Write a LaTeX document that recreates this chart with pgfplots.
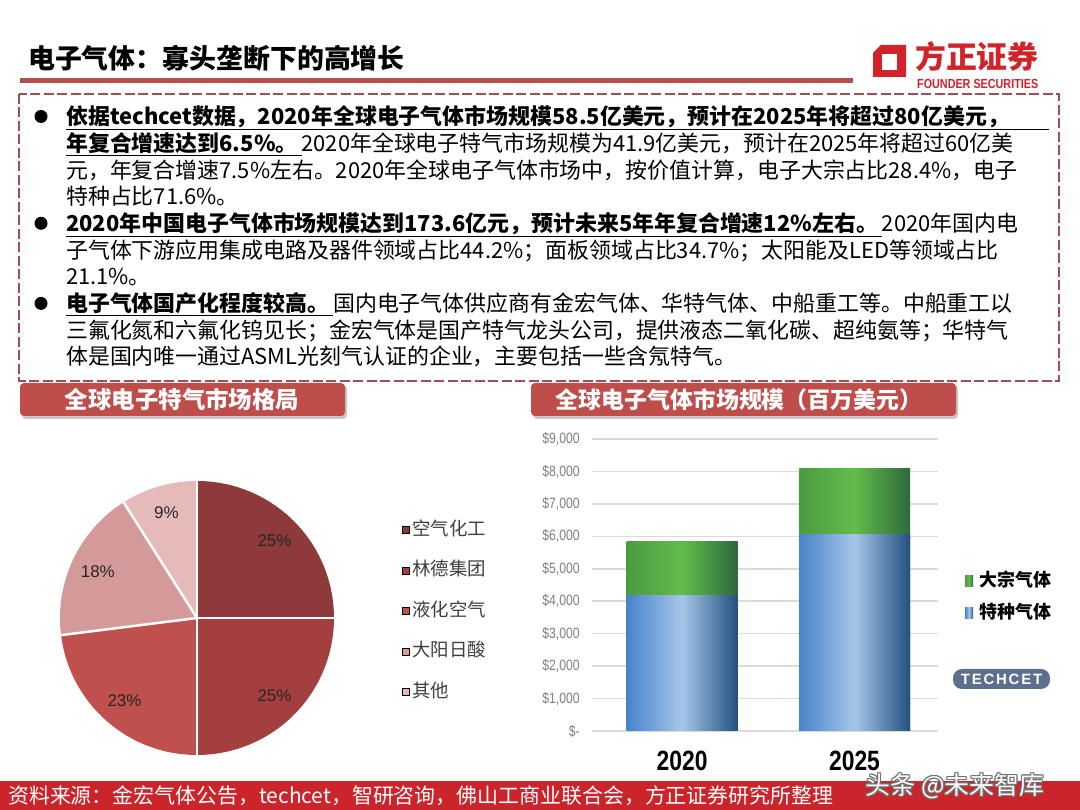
\documentclass[border=0pt]{standalone}
\usepackage{pgfplots}
\pgfplotsset{compat=1.18}
\usepackage{pgfplotstable}
\usepackage{fontspec}
\setmainfont{Noto Sans CJK SC}
\newfontfamily\arial{Liberation Sans}
\newfontfamily\arialn{Liberation Sans}[FakeStretch=0.82]
\XeTeXlinebreaklocale "zh"
\XeTeXlinebreakskip=0pt plus 3pt

\definecolor{pie0}{HTML}{8E3A3A}
\definecolor{pie1}{HTML}{A3403F}
\definecolor{pie2}{HTML}{C0504D}
\definecolor{pie3}{HTML}{D49A99}
\definecolor{pie4}{HTML}{E5BAB9}
\definecolor{hdr}{HTML}{BF4D4A}
\definecolor{boxred}{HTML}{A24E56}
\definecolor{titlered}{HTML}{B3504E}
\definecolor{logored}{HTML}{D2232A}
\definecolor{footred}{HTML}{CB252B}
\definecolor{gridgray}{HTML}{DADADA}
\definecolor{tickgray}{HTML}{7F7F7F}
\definecolor{legtext}{HTML}{404040}
\definecolor{blueL}{HTML}{4584CA}
\definecolor{blueM}{HTML}{A6C6E9}
\definecolor{blueR}{HTML}{22507F}
\definecolor{greenL}{HTML}{4C9A42}
\definecolor{greenM}{HTML}{62BC4A}
\definecolor{greenR}{HTML}{2C6A3D}
\definecolor{slate}{HTML}{5C6F8C}

% global specialty gas market share (%)
\pgfplotstableread{
share
25
25
23
18
9
}\piedata

% global electronic gas market, million USD
\pgfplotstableread{
x spec bulk
0 4190 1660
1 6060 2020
}\gasdata

\newcommand\bu[1]{\underline{\bfseries #1}}

\begin{document}
\begin{tikzpicture}[x=1bp,y=1bp,
  txt/.style={anchor=base west, inner sep=0pt, font=\fontsize{22}{26}\selectfont}]
\useasboundingbox (0,0) rectangle (1080,810);
\fill[white] (0,0) rectangle (1080,810);

% title and logo
\node[anchor=west, inner sep=0pt, font=\fontsize{27}{30}\selectfont\bfseries] at (28,{810-58}) {电子气体：寡头垄断下的高增长};
\fill[titlered] (20,{810-83}) rectangle (853,{810-78});
\fill[logored] (873,{810-53}) -- (881,{810-45}) -- (906,{810-45}) -- (906,{810-77}) -- (873,{810-77}) -- cycle;
\fill[white] (882,{810-54}) rectangle (897,{810-70});
\node[anchor=west, inner sep=0pt, text=logored, font=\fontsize{31}{32}\selectfont\bfseries] at (915,{810-57}) {方正证券};
\node[anchor=west, inner sep=0pt, text=logored, font=\arialn\bfseries\fontsize{13.2}{13}\selectfont] at (917,{810-84}) {FOUNDER SECURITIES};

% text box
\draw[boxred, line width=2.8bp, dash pattern=on 10bp off 3.5bp] (19,{810-94}) rectangle (1059,{810-381});
\foreach \yy in {116.5,223.3,303.4} \fill (41,{810-\yy}) circle (6.5);
\node[txt] at (66,{810-124.7}) {\underline{\makebox[983bp][s]{\bfseries 依据techcet数据，2020年全球电子气体市场规模58.5亿美元，预计在2025年将超过80亿美元，}}};
\node[txt] at (66,{810-151.4}) {\makebox[983bp][s]{\bu{年复合增速达到6.5\%。\hspace{4bp}}2020年全球电子特气市场规模为41.9亿美元，预计在2025年将超过60亿美}};
\node[txt] at (66,{810-178.1}) {\makebox[983bp][s]{元，年复合增速7.5\%左右。2020年全球电子气体市场中，按价值计算，电子大宗占比28.4\%，电子}};
\node[txt] at (66,{810-204.8}) {特种占比71.6\%。};
\node[txt] at (66,{810-231.5}) {\makebox[983bp][s]{\bu{2020年中国电子气体市场规模达到173.6亿元，预计未来5年年复合增速12\%左右。\hspace{4bp}}2020年国内电}};
\node[txt] at (66,{810-258.2}) {\makebox[983bp][s]{子气体下游应用集成电路及器件领域占比44.2\%；面板领域占比34.7\%；太阳能及LED等领域占比}};
\node[txt] at (66,{810-284.9}) {21.1\%。};
\node[txt] at (66,{810-311.6}) {\makebox[983bp][s]{\bu{电子气体国产化程度较高。\hspace{4bp}}国内电子气体供应商有金宏气体、华特气体、中船重工等。中船重工以}};
\node[txt] at (66,{810-338.3}) {\makebox[983bp][s]{三氟化氮和六氟化钨见长；金宏气体是国产特气龙头公司，提供液态二氧化碳、超纯氨等；华特气}};
\node[txt] at (66,{810-365.0}) {体是国内唯一通过ASML光刻气认证的企业，主要包括一些含氖特气。};

% section headers
\fill[black!22, rounded corners=4bp] (22,{810-419}) rectangle (347,{810-385});
\fill[hdr, rounded corners=4bp] (20,{810-416}) rectangle (345,{810-383});
\node[text=white, font=\fontsize{23.5}{24}\selectfont\bfseries] at (182,{810-399.5}) {全球电子特气市场格局};
\fill[black!22, rounded corners=4bp] (533,{810-419}) rectangle (958,{810-385});
\fill[hdr, rounded corners=4bp] (531,{810-416}) rectangle (956,{810-383});
\node[text=white, font=\fontsize{23}{24}\selectfont\bfseries] at (739,{810-399.5}) {全球电子气体市场规模（百万美元）};

% pie chart
\begin{axis}[
  hide axis,
  x=137bp, y=137bp,
  xmin=-1, xmax=1, ymin=-1, ymax=1,
  at={(197bp,192bp)}, anchor=center,
  clip=false,
  legend image code/.code={\fill[#1] (0bp,-3.5bp) rectangle (7bp,3.5bp);},
  legend style={at={(1.248,0.854)}, anchor=north west, draw=none, fill=none,
    inner sep=0pt, row sep=22.5bp, column sep=3bp,
    font=\fontsize{18.5}{20}\selectfont, text=legtext,
    nodes={inner sep=0pt, text height=14bp, text depth=4bp}},
  legend cell align=left,
]
\pgfplotsextra{
  \gdef\pieA{90}
  \pgfplotstableforeachcolumnelement{share}\of\piedata\as\v{%
    \pgfmathsetmacro\pieB{\pieA-3.6*\v}%
    \pgfmathsetmacro\pieM{(\pieA+\pieB)/2}%
    \edef\idx{\pgfplotstablerow}%
    \fill[pie\idx] (axis cs:0,0) -- (axis cs:{cos(\pieA)},{sin(\pieA)}) arc[start angle=\pieA, end angle=\pieB, radius=137bp] -- cycle;
    \node[font=\arial\fontsize{17}{17}\selectfont, text=black!85] at (axis cs:{0.8*cos(\pieM)},{0.8*sin(\pieM)}) {\v\%};
    \xdef\pieA{\pieB}%
  }
  \gdef\pieA{90}
  \pgfplotstableforeachcolumnelement{share}\of\piedata\as\v{%
    \draw[white, line width=2.5bp] (axis cs:0,0) -- (axis cs:{cos(\pieA)},{sin(\pieA)});
    \pgfmathsetmacro\pieB{\pieA-3.6*\v}%
    \xdef\pieA{\pieB}%
  }
}
\addlegendimage{fill=pie0}
\addlegendimage{fill=pie1}
\addlegendimage{fill=pie2}
\addlegendimage{fill=pie3}
\addlegendimage{fill=pie4}
\legend{空气化工,林德集团,液化空气,大阳日酸,其他}
\end{axis}

% stacked bar chart: green drawn to the total, blue laid over its lower part
\begin{axis}[
  scale only axis, width=346bp, height=292bp,
  at={(592bp,79bp)}, anchor=south west,
  xmin=-0.522, xmax=1.484, ymin=0, ymax=9000,
  ybar, bar shift=0pt, bar width=111bp,
  axis line style={draw=none},
  major tick style={draw=none},
  ymajorgrids, grid style={draw=gridgray, line width=1.6bp},
  ytick={0,1000,...,9000},
  yticklabels={{\$-\hspace{7bp}},{\$1,000},{\$2,000},{\$3,000},{\$4,000},{\$5,000},{\$6,000},{\$7,000},{\$8,000},{\$9,000}},
  yticklabel style={font=\arialn\fontsize{15}{15}\selectfont, text=tickgray, anchor=east, inner sep=0pt, xshift=-12bp},
  xtick={0,1}, xticklabels={2020,2025},
  xticklabel style={font=\arialn\bfseries\fontsize{28}{28}\selectfont, anchor=north, inner sep=0pt, yshift=-15.5bp},
  legend image code/.code={\fill[#1] (0bp,-5.5bp) rectangle (8bp,5.5bp);},
  legend style={at={(1.078,0.545)}, anchor=north west, draw=none, fill=none,
    inner sep=0pt, row sep=14bp, column sep=6bp,
    font=\fontsize{18}{20}\selectfont\bfseries,
    nodes={inner sep=0pt, text height=14bp, text depth=4bp}},
  legend cell align=left,
  green bar/.style={draw=none, left color=greenL, right color=greenR, middle color=greenM},
  blue bar/.style={draw=none, left color=blueL, right color=blueR, middle color=blueM},
]
\addplot[green bar, restrict x to domain=-0.5:0.5] table[x=x, y expr=\thisrow{spec}+\thisrow{bulk}] {\gasdata};
\addplot[green bar, restrict x to domain=0.5:1.5, forget plot] table[x=x, y expr=\thisrow{spec}+\thisrow{bulk}] {\gasdata};
\addplot[blue bar, restrict x to domain=-0.5:0.5] table[x=x, y=spec] {\gasdata};
\addplot[blue bar, restrict x to domain=0.5:1.5, forget plot] table[x=x, y=spec] {\gasdata};
\legend{大宗气体,特种气体}
\end{axis}

% TECHCET logo
\fill[slate, rounded corners=9bp] (953,{810-689}) rectangle (1050,{810-669});
\node[text=white, font=\arial\bfseries\fontsize{15}{15}\selectfont\addfontfeature{LetterSpace=12}] at (1001.5,{810-679}) {TECHCET};

% footer
\fill[footred] (0,0) rectangle (1080,{810-781});
\node[anchor=west, inner sep=0pt, text=white, font=\fontsize{21}{22}\selectfont] at (8,{810-796}) {资料来源：金宏气体公告，techcet，智研咨询，佛山工商业联合会，方正证券研究所整理};
\foreach \dx/\dy in {-1/0,1/0,0/-1,0/1,-1/-1,1/1,-1/1,1/-1}
  \node[text=black!55, font=\fontsize{25}{26}\selectfont] at ({955+\dx},{810-786+\dy}) {头条 @未来智库};
\node[text=white, font=\fontsize{25}{26}\selectfont] at (955,{810-786}) {头条 @未来智库};
\end{tikzpicture}
\end{document}
